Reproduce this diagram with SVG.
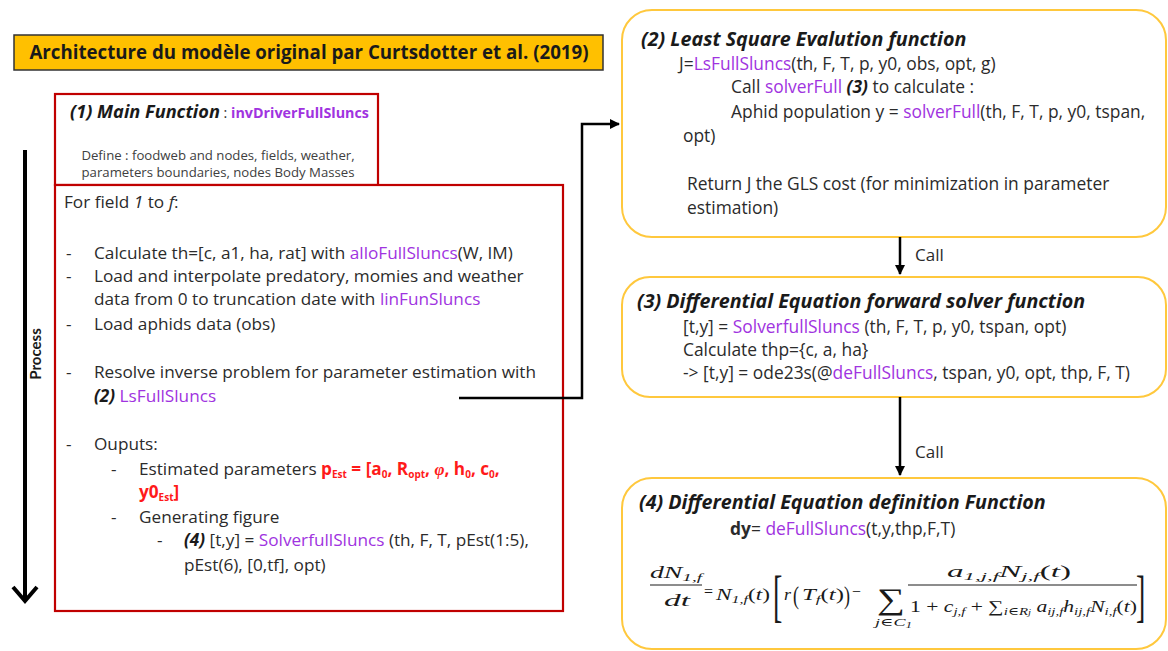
<svg xmlns="http://www.w3.org/2000/svg" width="1168" height="651" viewBox="0 0 1168 651">
<defs>
<style>
text{font-family:"Open Sans",Lato,"Liberation Sans",sans-serif;fill:#2b2b2b}
.t{font-size:17.2px}
.r{font-size:17.4px}
.pu{fill:#a033e0}
.rd{fill:#ff1a1a;font-weight:bold}
.bi{font-weight:bold;font-style:italic;fill:#1a1a1a}
.redbox{fill:#fff;stroke:#c00000;stroke-width:2.2}
.ybox{fill:#fff;stroke:#ffc83d;stroke-width:2}
.m{font-family:"Liberation Serif","DejaVu Serif",serif;font-style:italic;font-size:16px;fill:#1a1a1a}
.mu{font-family:"Liberation Serif","DejaVu Serif",serif;font-style:normal;font-size:16px;fill:#1a1a1a}
.s{font-size:11px}
.bar{stroke:#1a1a1a;stroke-width:1}
.conn{fill:none;stroke:#000;stroke-width:2.5}
</style>
<marker id="ah" viewBox="0 0 10 10" refX="9" refY="5" markerWidth="4" markerHeight="4" orient="auto" markerUnits="strokeWidth">
<path d="M0,0 L10,5 L0,10 z" fill="#000"/>
</marker>
</defs>
<rect width="1168" height="651" fill="#fff"/>

<g id="title">
<rect x="14" y="35" width="589" height="35" fill="#ffc000" stroke="#333" stroke-width="1.5"/>
<text x="309" y="59" text-anchor="middle" style="font-size:18.7px;font-weight:bold;fill:#1a1a1a">Architecture du modèle original par Curtsdotter et al. (2019)</text>
</g>

<g id="process">
<line x1="25" y1="150" x2="25" y2="600" stroke="#000" stroke-width="4"/>
<polyline points="13,587 25,601 37,587" fill="none" stroke="#000" stroke-width="4" stroke-linejoin="miter"/>
<text transform="translate(41,354) rotate(-90)" text-anchor="middle" style="font-family:Lato,'Open Sans',sans-serif;font-size:15px;font-weight:bold;fill:#1a1a1a">Process</text>
</g>

<g id="main-function">
<rect class="redbox" x="55" y="94" width="323" height="91"/>
<text x="70" y="118"><tspan class="bi" style="font-size:18.2px">(1) Main Function</tspan><tspan style="font-size:14.3px"> : </tspan><tspan class="pu" style="font-size:14.3px;font-weight:bold">invDriverFullSluncs</tspan></text>
<text x="218" y="160" text-anchor="middle" style="font-size:13.2px;fill:#404040">Define : foodweb and nodes, fields, weather,</text>
<text x="218" y="177" text-anchor="middle" style="font-size:13.2px;fill:#404040">parameters boundaries, nodes Body Masses</text>
</g>

<g id="field-loop">
<rect class="redbox" x="55" y="185" width="508" height="426"/>
<text class="t" x="64" y="208">For field <tspan font-style="italic">1</tspan> to <tspan font-style="italic">f</tspan>:</text>
<text class="t" x="66" y="259">-</text>
<text class="t" x="94" y="259">Calculate th=[c, a1, ha, rat] with <tspan class="pu">alloFullSluncs</tspan>(W, IM)</text>
<text class="t" x="66" y="282">-</text>
<text class="t" x="94" y="282">Load and interpolate predatory, momies and weather</text>
<text class="t" x="94" y="305">data from 0 to truncation date with <tspan class="pu">linFunSluncs</tspan></text>
<text class="t" x="66" y="330">-</text>
<text class="t" x="94" y="330">Load aphids data (obs)</text>
<text class="t" x="66" y="378">-</text>
<text class="t" x="94" y="378">Resolve inverse problem for parameter estimation with</text>
<text class="t" x="94" y="402"><tspan class="bi">(2)</tspan> <tspan class="pu">LsFullSluncs</tspan></text>
<text class="t" x="66" y="450">-</text>
<text class="t" x="94" y="450">Ouputs:</text>
<text class="t" x="111" y="475">-</text>
<text class="t" x="139" y="475">Estimated parameters <tspan class="rd">p<tspan baseline-shift="-3" style="font-size:10px">Est</tspan> = [a<tspan baseline-shift="-3" style="font-size:10px">0</tspan>, R<tspan baseline-shift="-3" style="font-size:10px">opt</tspan>, <tspan font-family="Liberation Serif,serif" font-style="italic">φ</tspan>, h<tspan baseline-shift="-3" style="font-size:10px">0</tspan>, c<tspan baseline-shift="-3" style="font-size:10px">0</tspan>,</tspan></text>
<text class="t" x="139" y="498"><tspan class="rd">y0<tspan baseline-shift="-3" style="font-size:10px">Est</tspan>]</tspan></text>
<text class="t" x="111" y="523">-</text>
<text class="t" x="139" y="523">Generating figure</text>
<text class="t" x="157" y="546">-</text>
<text class="t" x="184" y="546"><tspan class="bi">(4)</tspan> [t,y] = <tspan class="pu">SolverfullSluncs</tspan> (th, F, T, pEst(1:5),</text>
<text class="t" x="184" y="571">pEst(6), [0,tf], opt)</text>
</g>

<g id="least-square">
<rect class="ybox" x="622" y="10" width="544" height="227" rx="30"/>
<text class="bi" x="641" y="46" style="font-size:19.7px">(2) Least Square Evalution function</text>
<text class="r" x="679" y="70">J=<tspan class="pu">LsFullSluncs</tspan>(th, F, T, p, y0, obs, opt, g)</text>
<text class="r" x="731" y="93">Call <tspan class="pu">solverFull</tspan> <tspan class="bi">(3)</tspan> to calculate :</text>
<text class="r" x="731" y="118">Aphid population y = <tspan class="pu">solverFull</tspan>(th, F, T, p, y0, tspan,</text>
<text class="r" x="683" y="142">opt)</text>
<text class="r" x="687" y="190">Return J the GLS cost (for minimization in parameter</text>
<text class="r" x="687" y="214">estimation)</text>
</g>

<g id="ode-solver">
<rect class="ybox" x="622" y="277" width="544" height="120" rx="28"/>
<text class="bi" x="637" y="308" style="font-size:19.7px">(3) Differential Equation forward solver function</text>
<text class="r" x="683" y="333">[t,y] = <tspan class="pu">SolverfullSluncs</tspan> (th, F, T, p, y0, tspan, opt)</text>
<text class="r" x="683" y="356">Calculate thp={c, a, ha}</text>
<text class="r" x="683" y="379">-&gt; [t,y] = ode23s(@<tspan class="pu">deFullSluncs</tspan>, tspan, y0, opt, thp, F, T)</text>
</g>

<g id="ode-definition">
<rect class="ybox" x="622" y="478" width="544" height="171" rx="30"/>
<text class="bi" x="639" y="509" style="font-size:19.7px">(4) Differential Equation definition Function</text>
<text class="r" x="730" y="535"><tspan font-weight="bold">dy</tspan>= <tspan class="pu">deFullSluncs</tspan>(t,y,thp,F,T)</text>
<g id="equation">
<text class="m" x="650" y="578" textLength="52" lengthAdjust="spacingAndGlyphs">dN<tspan class="s" baseline-shift="-3">1,f</tspan></text>
<line class="bar" x1="650" y1="585" x2="702" y2="585"/>
<text class="m" x="664" y="606" textLength="26" lengthAdjust="spacingAndGlyphs">dt</text>
<text class="mu" x="704" y="597" textLength="9" lengthAdjust="spacingAndGlyphs">=</text>
<text class="m" x="716" y="600" textLength="54" lengthAdjust="spacingAndGlyphs">N<tspan class="s" baseline-shift="-3">1,f</tspan><tspan font-style="normal">(</tspan>t<tspan font-style="normal">)</tspan></text>
<text class="mu" transform="translate(773,615) scale(1,2)" style="font-size:28px">[</text>
<text class="m" x="784" y="600" textLength="7" lengthAdjust="spacingAndGlyphs">r</text>
<text class="mu" transform="translate(793,604) scale(1,1.35)" style="font-size:18px">(</text>
<text class="m" x="802" y="600" textLength="42" lengthAdjust="spacingAndGlyphs">T<tspan class="s" baseline-shift="-3">f</tspan><tspan font-style="normal">(</tspan>t<tspan font-style="normal">)</tspan></text>
<text class="mu" transform="translate(844,604) scale(1,1.35)" style="font-size:18px">)</text>
<text class="mu" x="852" y="597" textLength="9" lengthAdjust="spacingAndGlyphs">−</text>
<text class="mu" x="877" y="609" textLength="28" lengthAdjust="spacingAndGlyphs" style="font-size:30px">∑</text>
<text class="m" x="875" y="626" textLength="37" lengthAdjust="spacingAndGlyphs" style="font-size:11px">j<tspan font-style="normal">∈</tspan>C<tspan baseline-shift="-2" style="font-size:8px">1</tspan></text>
<text class="m" x="947" y="577" textLength="124" lengthAdjust="spacingAndGlyphs">a<tspan class="s" baseline-shift="-3">1,j,f</tspan>N<tspan class="s" baseline-shift="-3">j,f</tspan><tspan font-style="normal">(</tspan>t<tspan font-style="normal">)</tspan></text>
<line class="bar" x1="908" y1="585" x2="1137" y2="585"/>
<text class="m" x="910" y="612" textLength="227" lengthAdjust="spacingAndGlyphs"><tspan font-style="normal">1 + </tspan>c<tspan class="s" baseline-shift="-3">j,f</tspan><tspan font-style="normal"> + ∑</tspan><tspan class="s" baseline-shift="-3">i∈R<tspan style="font-size:8px">j</tspan></tspan> a<tspan class="s" baseline-shift="-3">ij,f</tspan>h<tspan class="s" baseline-shift="-3">ij,f</tspan>N<tspan class="s" baseline-shift="-3">i,f</tspan><tspan font-style="normal">(</tspan>t<tspan font-style="normal">)</tspan></text>
<text class="mu" transform="translate(1136,615) scale(1,2)" style="font-size:28px">]</text>
</g>
</g>

<g id="connectors">
<polyline class="conn" points="459,398 582,398 582,124 619,124" marker-end="url(#ah)"/>
<line class="conn" x1="900" y1="237" x2="900" y2="274" marker-end="url(#ah)"/>
<text x="915" y="261" style="font-size:17px">Call</text>
<line class="conn" x1="900" y1="397" x2="900" y2="475" marker-end="url(#ah)"/>
<text x="915" y="458" style="font-size:17px">Call</text>
</g>
</svg>
